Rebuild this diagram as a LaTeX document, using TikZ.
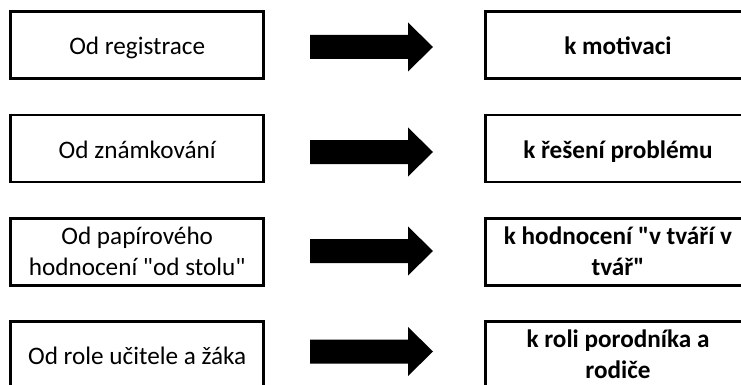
\documentclass[tikz,border=0pt]{standalone}
\usepackage{fontspec}
\setmainfont{Carlito}[Ligatures=TeXOff]
\begin{document}
\begin{tikzpicture}[x=1pt,y=-1pt,
  frame/.style={draw=black, line width=2.75pt, rectangle, inner sep=0pt},
  leftbox/.style={frame, minimum width=252.7pt, minimum height=67pt},
  rightbox/.style={frame, minimum width=265pt, minimum height=67pt},
  txt/.style={font=\fontsize{25.2}{31}\selectfont, inner sep=0pt, anchor=base},
  btxt/.style={txt, font=\fontsize{25.2}{31}\selectfont\bfseries},
  blockarrow/.style={fill=black}]
\useasboundingbox (0,0) rectangle (741,385);
\clip (0,0) rectangle (741,385);

% "from" boxes on the left
\node[leftbox] (L1) at (137.2,45.3)  {};
\node[leftbox] (L2) at (137.2,148.5) {};
\node[leftbox] (L3) at (137.2,251.8) {};
\node[leftbox] (L4) at (137.2,355)   {};

% "to" boxes on the right (running past the right edge)
\node[rightbox] (R1) at (618,45.3)  {};
\node[rightbox] (R2) at (618,148.5) {};
\node[rightbox] (R3) at (618,251.8) {};
\node[rightbox] (R4) at (618,355)   {};

% labels
\node[txt] (tL1) at ([yshift=-9.7pt]L1.center) {Od registrace};
\node[txt] (tL2) at ([yshift=-9.7pt]L2.center) {Od známkování};
\node[txt] (tL3a) at ([yshift=7.8pt]L3.center) {Od papírového};
\node[txt] (tL3b) at ([yshift=-23.2pt]L3.center) {hodnocení "od stolu"};
\node[txt] (tL4) at ([yshift=-9.7pt]L4.center) {Od role učitele a žáka};

\node[btxt] (tR1) at ([yshift=-9.7pt]R1.center) {k motivaci};
\node[btxt] (tR2) at ([yshift=-9.7pt]R2.center) {k řešení problému};
\node[btxt] (tR3a) at ([yshift=7.8pt]R3.center) {k hodnocení "v tváří v};
\node[btxt] (tR3b) at ([yshift=-23.2pt]R3.center) {tvář"};
\node[btxt] (tR4a) at ([yshift=7.8pt]R4.center) {k roli porodníka a};
\node[btxt] (tR4b) at ([yshift=-23.2pt]R4.center) {rodiče};

% block arrows between the columns
\foreach \yc in {47,152,251,351.5}
  \fill[blockarrow, shift={(310,\yc)}]
    (0,-12) -- (98,-12) -- (98,-24.5) -- (123,0) -- (98,24.5) -- (98,12) -- (0,12) -- cycle;
\end{tikzpicture}
\end{document}
